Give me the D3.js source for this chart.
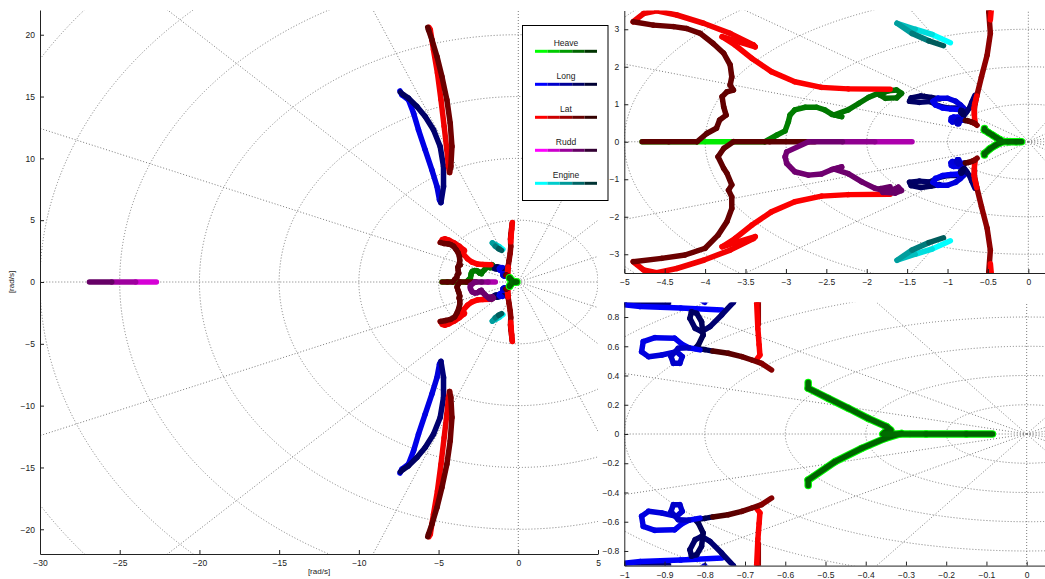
<!DOCTYPE html>
<html>
<head>
<meta charset="utf-8">
<script src="https://cdn.jsdelivr.net/npm/d3@7"></script>
<style>
  body { margin: 0; background: #fff; }
  svg { display: block; font-family: "Liberation Sans", Arial, Helvetica, sans-serif; }
</style>
</head>
<body>
<svg id="chart" width="1045" height="579"></svg>
<script>
// ---------------- data: closed-loop roots [Re, Im] in rad/s ----------------
const categories = ["Heave", "Long", "Lat", "Rudd", "Engine"];

// tick values for the three views
const fullXTicks = [-30, -25, -20, -15, -10, -5, 0, 5];
const fullYTicks = [-20, -15, -10, -5, 0, 5, 10, 15, 20];
const midXTicks = [-5, -4.5, -4, -3.5, -3, -2.5, -2, -1.5, -1, -0.5, 0];
const midYTicks = [-3, -2, -1, 0, 1, 2, 3];
const nearXTicks = [-1, -0.9, -0.8, -0.7, -0.6, -0.5, -0.4, -0.3, -0.2, -0.1, 0];
const nearYTicks = [-0.8, -0.6, -0.4, -0.2, 0, 0.2, 0.4, 0.6, 0.8];

// Heave
const heaveRealAxis = [[-4.78, 0], [-4.10, 0], [-3.67, 0], [-3.26, 0]];
const heaveUpper = [[-3.26, 0], [-3.11, 0.18], [-3.01, 0.29], [-2.97, 0.53], [-2.95, 0.71], [-2.89, 0.85],
  [-2.76, 0.92], [-2.62, 0.92], [-2.52, 0.85], [-2.43, 0.73], [-2.31, 0.67], [-2.40, 0.72], [-2.23, 0.85],
  [-2.10, 1.02], [-1.98, 1.18], [-1.86, 1.29], [-1.73, 1.36], [-1.63, 1.38], [-1.57, 1.29], [-1.63, 1.17],
  [-1.77, 1.16], [-1.84, 1.25], [-1.76, 1.34]];
const heaveArmUpper = [[-0.543, 0.353], [-0.543, 0.313], [-0.493, 0.244], [-0.443, 0.176], [-0.394, 0.107],
  [-0.348, 0.050], [-0.338, 0.027], [-0.352, 0.012], [-0.357, 0]];
const heaveArmLower = [[-0.543, -0.353], [-0.543, -0.315], [-0.476, -0.189], [-0.410, -0.098],
  [-0.352, -0.030], [-0.311, 0.004]];
const heaveNearAxis = [[-0.357, 0], [-0.25, 0], [-0.15, 0], [-0.085, 0]];

// Long
const longHighOut = [[-7.42, 15.45], [-7.30, 15.14], [-6.89, 14.74], [-6.57, 13.66], [-6.26, 12.31],
  [-5.84, 10.69], [-5.42, 9.07], [-5.10, 7.72], [-4.94, 6.64], [-4.85, 6.42]];
const longHighIn = [[-4.85, 6.42], [-4.69, 7.72], [-4.69, 9.34], [-4.90, 10.96], [-5.32, 12.31],
  [-5.84, 13.39], [-6.36, 14.20], [-6.89, 14.87], [-7.20, 15.14], [-7.40, 15.35]];
const longLowA = [[-0.757, 0.848], [-0.86, 0.862], [-0.96, 0.872], [-1.06, 0.90], [-1.15, 0.98],
  [-1.18, 1.08], [-1.12, 1.16], [-1.0, 1.16], [-0.9, 1.08], [-0.84, 0.98], [-0.80, 0.90]];
const longLowB = [[-0.89, 0.897], [-1.0, 0.90], [-1.1, 0.95], [-1.22, 1.07], [-1.35, 1.05], [-1.47, 1.08],
  [-1.45, 1.17], [-1.33, 1.22], [-1.2, 1.18], [-1.1, 1.14]];
const longLowC = [[-0.66, 1.24], [-0.70, 1.05], [-0.729, 0.90], [-0.758, 0.814], [-0.787, 0.734],
  [-0.808, 0.70], [-0.824, 0.723], [-0.837, 0.791], [-0.833, 0.836], [-0.820, 0.825], [-0.808, 0.768],
  [-0.804, 0.677], [-0.816, 0.609], [-0.824, 0.586], [-0.80, 0.577], [-0.78, 0.567]];
const longLowD = [[-0.812, 0.575], [-0.840, 0.590], [-0.857, 0.615], [-0.875, 0.655], [-0.924, 0.659],
  [-0.953, 0.632], [-0.957, 0.563], [-0.94, 0.529], [-0.907, 0.54], [-0.87, 0.563], [-0.856, 0.529],
  [-0.862, 0.483], [-0.878, 0.483], [-0.884, 0.53], [-0.866, 0.586], [-0.84, 0.59]];

// Lat
const latHighOut = [[-5.60, 20.6], [-5.52, 20.40], [-5.32, 18.79], [-5.07, 16.9], [-4.85, 14.74],
  [-4.65, 12.58], [-4.48, 10.69], [-4.38, 9.34], [-4.31, 8.85]];
const latHighIn = [[-4.31, 8.85], [-4.23, 9.34], [-4.16, 10.96], [-4.27, 12.85], [-4.48, 14.74],
  [-4.79, 16.62], [-5.10, 18.24], [-5.42, 19.6], [-5.63, 20.4], [-5.68, 20.6]];
const latWingBright = [[-1.71, 1.40], [-2.23, 1.41], [-2.56, 1.45], [-2.89, 1.60], [-3.18, 1.87],
  [-3.42, 2.22], [-3.63, 2.58], [-3.79, 2.80], [-3.38, 2.53], [-3.40, 2.58], [-3.69, 2.89], [-4.02, 3.16],
  [-4.35, 3.38], [-4.60, 3.49], [-4.76, 3.42], [-4.89, 3.20]];
const latWingDarkUpper = [[-4.89, 3.20], [-4.64, 3.11], [-4.39, 3.07], [-4.23, 3.02], [-4.06, 2.89],
  [-3.90, 2.62], [-3.77, 2.36], [-3.69, 2.05], [-3.67, 1.73], [-3.69, 1.51], [-3.65, 1.38], [-3.73, 1.33],
  [-3.79, 1.20], [-3.77, 0.93], [-3.74, 0.71], [-3.82, 0.58], [-3.86, 0.36], [-3.98, 0.22], [-4.10, 0],
  [-4.45, 0], [-4.78, 0]];
const latWingDarkLower = [[-4.89, -3.20], [-4.54, -3.11], [-4.25, -3.02], [-4.00, -2.84], [-3.84, -2.49],
  [-3.73, -2.13], [-3.67, -1.78], [-3.67, -1.47], [-3.71, -1.29], [-3.67, -1.15], [-3.73, -0.84],
  [-3.77, -0.71], [-3.84, -0.40], [-3.77, -0.18], [-3.65, 0], [-3.2, 0], [-2.64, 0]];
const latLongDark = [[-0.667, 0.75], [-0.667, 0.9], [-0.655, 1.05], [-0.64, 1.20], [-0.58, 1.73],
  [-0.51, 2.31], [-0.47, 2.89], [-0.49, 3.47], [-0.46, 3.9], [-0.42, 4.3], [-0.39, 4.75]];
const latLowBright = [[-0.671, 0.51], [-0.663, 0.54], [-0.665, 0.61], [-0.668, 0.72], [-0.671, 0.894],
  [-0.665, 1.0], [-0.65, 1.12], [-0.64, 1.22]];
const latTopBright = [[-0.47, 3.25], [-0.455, 3.6], [-0.42, 4.2], [-0.37, 4.82]];
const latLowDark = [[-0.78, 0.567], [-0.742, 0.552], [-0.708, 0.529], [-0.683, 0.506], [-0.659, 0.483],
  [-0.634, 0.438]];

// Rudd
const ruddFarAxis = [[-22.7, 0], [-24.0, 0], [-25.5, 0], [-26.9, 0]];
const ruddAxis = [[-1.44, 0], [-1.9, 0], [-2.3, 0], [-2.72, 0]];
const ruddLower = [[-2.72, 0], [-2.99, -0.27], [-3.01, -0.40], [-2.99, -0.58], [-2.89, -0.80],
  [-2.72, -0.89], [-2.56, -0.86], [-2.43, -0.74], [-2.31, -0.67], [-2.40, -0.73], [-2.23, -0.85],
  [-2.06, -1.07], [-1.90, -1.24], [-1.73, -1.33], [-1.61, -1.21], [-1.57, -1.30], [-1.65, -1.37],
  [-1.80, -1.35], [-1.83, -1.25], [-1.71, -1.20]];
const ruddDot = [[-0.29, 0]];

// Engine
const engineUpper = [[-0.965, 2.64], [-1.19, 2.86], [-1.40, 3.0], [-1.625, 3.16], [-1.44, 2.89],
  [-1.23, 2.69], [-1.05, 2.56]];

// each branch: loop category, gain-sweep span (0 = start, 1 = end), points, conjugate pair drawn
const branches = [
  { cat: "Heave", t: [0.05, 0.15], pts: heaveRealAxis, conj: false },
  { cat: "Heave", t: [0.62, 0.72], pts: heaveUpper, conj: false },
  { cat: "Long", t: [0.05, 0.2], pts: longHighOut, conj: true },
  { cat: "Long", t: [0.65, 0.8], pts: longHighIn, conj: true },
  { cat: "Long", t: [0.7, 0.8], pts: longLowB, conj: true },
  { cat: "Long", t: [0.0, 0.2], pts: longLowA, conj: true },
  { cat: "Long", t: [0.65, 0.85], pts: longLowC, conj: true },
  { cat: "Long", t: [0.05, 0.3], pts: longLowD, conj: true },
  { cat: "Lat", t: [0.02, 0.12], pts: latHighOut, conj: true },
  { cat: "Lat", t: [0.65, 0.8], pts: latHighIn, conj: true },
  { cat: "Lat", t: [0.0, 0.08], pts: latWingBright, conj: true },
  { cat: "Lat", t: [0.72, 0.8], pts: latWingDarkUpper, conj: false },
  { cat: "Lat", t: [0.72, 0.8], pts: latWingDarkLower, conj: false },
  { cat: "Lat", t: [0.5, 0.6], pts: latLongDark, conj: true },
  { cat: "Lat", t: [0.0, 0.05], pts: latLowBright, conj: true },
  { cat: "Lat", t: [0.0, 0.05], pts: latTopBright, conj: true },
  { cat: "Lat", t: [0.87, 0.6], pts: latLowDark, conj: true },
  { cat: "Rudd", t: [0.2, 0.75], pts: ruddFarAxis, conj: false },
  { cat: "Rudd", t: [0.4, 0.7], pts: ruddAxis, conj: false },
  { cat: "Rudd", t: [0.68, 0.75], pts: ruddLower, conj: false },
  { cat: "Rudd", t: [0.55, 0.55], pts: ruddDot, conj: false },
  { cat: "Engine", t: [0.0, 0.8], pts: engineUpper, conj: true },
  { cat: "Heave", t: [0.0, 0.0], pts: heaveArmUpper, conj: false, halo: true },
  { cat: "Heave", t: [0.0, 0.0], pts: heaveArmLower, conj: false, halo: true },
  { cat: "Heave", t: [0.0, 0.0], pts: heaveNearAxis, conj: false, halo: true },
  { cat: "Heave", t: [0.75, 0.78], pts: heaveArmUpper, conj: false },
  { cat: "Heave", t: [0.75, 0.78], pts: heaveArmLower, conj: false },
  { cat: "Heave", t: [0.72, 0.78], pts: heaveNearAxis, conj: false }
];

// ---------------- styling ----------------
const baseRGB = { Heave: [0, 255, 0], Long: [0, 0, 255], Lat: [255, 0, 0], Rudd: [255, 0, 255], Engine: [0, 255, 255] };
function shade(cat, t) {
  const f = 1 - 0.8 * t, b = baseRGB[cat];
  return d3.rgb(b[0] * f, b[1] * f, b[2] * f).formatHex();
}
const fmt = v => d3.format("~g")(+v.toFixed(4));
const spokeAngles = d3.range(0, 360, 22.5);

const svg = d3.select("#chart");
const defs = svg.append("defs");

const panels = [
  { id: "full", dx: [-30, 5], dy: [-22, 22], px: [40, 598], py: [554, 10], xt: fullXTicks, yt: fullYTicks,
    rings: [5, 10, 15, 20, 25, 30, 35, 40], labels: true },
  { id: "mid", dx: [-5, 0.2], dy: [-3.5, 3.5], px: [624.3, 1044.5], py: [273, 10.5], xt: midXTicks, yt: midYTicks,
    rings: [1, 2, 3, 4, 5, 6, 7] },
  { id: "near", dx: [-1, 0.05], dy: [-0.9, 0.9], px: [624.3, 1046.8], py: [565.6, 302.4], xt: nearXTicks, yt: nearYTicks,
    rings: [0.2, 0.4, 0.6, 0.8, 1.0, 1.2, 1.4] }
];

function drawPanel(p) {
  const x = d3.scaleLinear().domain(p.dx).range(p.px);
  const y = d3.scaleLinear().domain(p.dy).range(p.py);
  const g = svg.append("g").attr("class", "panel-" + p.id);

  defs.append("clipPath").attr("id", "clip-" + p.id)
    .append("rect").attr("x", p.px[0]).attr("y", p.py[1])
    .attr("width", p.px[1] - p.px[0]).attr("height", p.py[0] - p.py[1]);
  const plot = g.append("g").attr("clip-path", `url(#clip-${p.id})`);

  // s-plane grid: natural-frequency rings and equal-angle spokes
  const grid = plot.append("g").attr("fill", "none").attr("stroke", "#7a7a7a")
    .attr("stroke-width", 1).attr("stroke-dasharray", "1 2");
  grid.selectAll("ellipse").data(p.rings).join("ellipse")
    .attr("cx", x(0)).attr("cy", y(0))
    .attr("rx", r => x(r) - x(0)).attr("ry", r => y(0) - y(r));
  const far = p.rings[p.rings.length - 1] * 3;
  grid.selectAll("line").data(spokeAngles).join("line")
    .attr("x1", x(0)).attr("y1", y(0))
    .attr("x2", a => x(far * Math.cos(a * Math.PI / 180)))
    .attr("y2", a => y(far * Math.sin(a * Math.PI / 180)));

  // root-locus branches, shaded along the gain sweep
  const traces = plot.append("g").attr("stroke-linecap", "round");
  branches.forEach(b => {
    const sets = b.conj ? [b.pts, b.pts.map(([re, im]) => [re, -im])] : [b.pts];
    const w = b.halo ? 7.5 : 5.5;
    sets.forEach(pts => {
      if (pts.length === 1) {
        traces.append("circle").attr("cx", x(pts[0][0])).attr("cy", y(pts[0][1]))
          .attr("r", w / 2 + 0.5).attr("fill", shade(b.cat, b.t[0]));
        return;
      }
      const n = pts.length - 1;
      const segs = d3.range(n).map(i => ({
        a: pts[i], b: pts[i + 1],
        c: shade(b.cat, b.t[0] + (b.t[1] - b.t[0]) * (n === 1 ? 0 : i / (n - 1)))
      }));
      traces.append("g").selectAll("line").data(segs).join("line")
        .attr("x1", s => x(s.a[0])).attr("y1", s => y(s.a[1]))
        .attr("x2", s => x(s.b[0])).attr("y2", s => y(s.b[1]))
        .attr("stroke", s => s.c).attr("stroke-width", w);
    });
  });

  // axes (ticks pointing inward, no box)
  const xAxis = g.append("g").attr("transform", `translate(0,${p.py[0]})`)
    .call(d3.axisBottom(x).tickValues(p.xt).tickFormat(fmt).tickSize(-4).tickSizeOuter(0).tickPadding(6));
  const yAxis = g.append("g").attr("transform", `translate(${p.px[0]},0)`)
    .call(d3.axisLeft(y).tickValues(p.yt).tickFormat(fmt).tickSize(-4).tickSizeOuter(0).tickPadding(5));
  [xAxis, yAxis].forEach(a => {
    a.attr("font-family", null).attr("font-size", null);
    a.selectAll("text").attr("font-size", "8.5px").attr("fill", "#1a1a1a");
    a.select(".domain").attr("stroke", "#222").attr("stroke-width", 1);
    a.selectAll(".tick line").attr("stroke", "#222");
  });

  if (p.labels) {
    g.append("text").attr("x", (p.px[0] + p.px[1]) / 2).attr("y", 574)
      .attr("text-anchor", "middle").attr("font-size", "8px").attr("fill", "#1a1a1a").text("[rad/s]");
    g.append("text").attr("transform", `translate(14,${y(0)}) rotate(-90)`)
      .attr("text-anchor", "middle").attr("font-size", "8px").attr("fill", "#1a1a1a").text("[rad/s]");
  }
}

drawPanel(panels[0]);

// legend: five-step shade of each loop's colour
const legend = svg.append("g");
legend.append("rect").attr("x", 522.5).attr("y", 25.5).attr("width", 85.5).attr("height", 175)
  .attr("fill", "#fff").attr("stroke", "#000").attr("stroke-width", 1);
const steps = [0, 0.25, 0.5, 0.75, 1];
categories.forEach((cat, i) => {
  const cy = 42.5 + 33 * i;
  legend.append("text").attr("x", 566).attr("y", cy + 3).attr("text-anchor", "middle")
    .attr("font-size", "8.5px").attr("fill", "#1a1a1a").text(cat);
  legend.selectAll(null).data(steps).join("line")
    .attr("x1", (d, k) => 535 + k * 12.4).attr("x2", (d, k) => 535 + (k + 1) * 12.4)
    .attr("y1", cy + 8.8).attr("y2", cy + 8.8)
    .attr("stroke", d => shade(cat, d)).attr("stroke-width", 3);
});

drawPanel(panels[1]);
drawPanel(panels[2]);
</script>
</body>
</html>
